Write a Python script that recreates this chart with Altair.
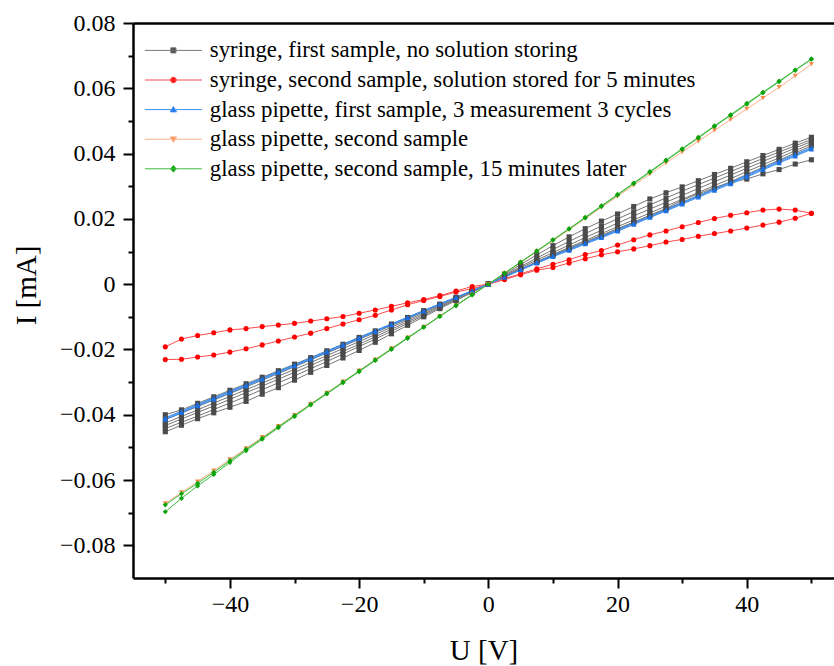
import altair as alt
import pandas as pd

U = [-50, -47.5, -45, -42.5, -40, -37.5, -35, -32.5, -30, -27.5, -25, -22.5, -20, -17.5, -15, -12.5, -10,
     -7.5, -5, -2.5, 0, 2.5, 5, 7.5, 10, 12.5, 15, 17.5, 20, 22.5, 25, 27.5, 30, 32.5, 35, 37.5, 40, 42.5,
     45, 47.5, 50]

S1 = "syringe, first sample, no solution storing"
S2 = "syringe, second sample, solution stored for 5 minutes"
S3 = "glass pipette, first sample, 3 measurement 3 cycles"
S4 = "glass pipette, second sample"
S5 = "glass pipette, second sample, 15 minutes later"
SERIES = [S1, S2, S3, S4, S5]

# syringe, first sample (several sweeps)
G1 = [-0.0400, -0.0385, -0.0365, -0.0345, -0.0325, -0.0305, -0.0285, -0.0265, -0.0245, -0.0225, -0.0204,
      -0.0184, -0.0163, -0.0143, -0.0122, -0.0102, -0.0081, -0.0061, -0.0040, -0.0020, 0,
      0.0030, 0.0060, 0.0090, 0.0118, 0.0145, 0.0170, 0.0193, 0.0215, 0.0238, 0.0261, 0.0280, 0.0298,
      0.0317, 0.0336, 0.0355, 0.0375, 0.0394, 0.0413, 0.0432, 0.0450]
G2 = [-0.0415, -0.0395, -0.0375, -0.0355, -0.0335, -0.0315, -0.0294, -0.0274, -0.0253, -0.0232, -0.0211,
      -0.0190, -0.0169, -0.0148, -0.0127, -0.0106, -0.0084, -0.0063, -0.0042, -0.0021, 0,
      0.0027, 0.0054, 0.0080, 0.0106, 0.0131, 0.0155, 0.0178, 0.0200, 0.0222, 0.0243, 0.0264, 0.0285,
      0.0305, 0.0325, 0.0345, 0.0365, 0.0385, 0.0405, 0.0424, 0.0443]
G3 = [-0.0425, -0.0405, -0.0385, -0.0364, -0.0344, -0.0323, -0.0303, -0.0282, -0.0261, -0.0240, -0.0219,
      -0.0197, -0.0176, -0.0154, -0.0132, -0.0110, -0.0088, -0.0066, -0.0044, -0.0022, 0,
      0.0025, 0.0050, 0.0074, 0.0097, 0.0120, 0.0143, 0.0165, 0.0187, 0.0209, 0.0230, 0.0251, 0.0272,
      0.0293, 0.0314, 0.0334, 0.0355, 0.0376, 0.0396, 0.0417, 0.0437]
G4 = [-0.0433, -0.0413, -0.0393, -0.0373, -0.0353, -0.0332, -0.0312, -0.0291, -0.0270, -0.0249, -0.0227,
      -0.0206, -0.0184, -0.0161, -0.0138, -0.0115, -0.0092, -0.0069, -0.0046, -0.0023, 0,
      0.0023, 0.0046, 0.0069, 0.0091, 0.0113, 0.0134, 0.0155, 0.0176, 0.0197, 0.0218, 0.0239, 0.0260,
      0.0281, 0.0302, 0.0323, 0.0345, 0.0366, 0.0387, 0.0409, 0.0430]
G5 = [-0.0442, -0.0423, -0.0404, -0.0384, -0.0364, -0.0344, -0.0323, -0.0302, -0.0281, -0.0259, -0.0237,
      -0.0214, -0.0191, -0.0168, -0.0144, -0.0120, -0.0096, -0.0072, -0.0048, -0.0024, 0,
      0.0022, 0.0045, 0.0067, 0.0088, 0.0108, 0.0128, 0.0148, 0.0168, 0.0189, 0.0210, 0.0230, 0.0251,
      0.0272, 0.0293, 0.0314, 0.0336, 0.0358, 0.0380, 0.0402, 0.0424]
G6 = [-0.0452, -0.0432, -0.0412, -0.0394, -0.0377, -0.0359, -0.0337, -0.0317, -0.0294, -0.0270, -0.0249,
      -0.0226, -0.0203, -0.0178, -0.0152, -0.0126, -0.0100, -0.0075, -0.0050, -0.0025, 0,
      0.0023, 0.0046, 0.0068, 0.0090, 0.0110, 0.0130, 0.0150, 0.0170, 0.0190, 0.0211, 0.0232, 0.0257,
      0.0277, 0.0296, 0.0312, 0.0322, 0.0338, 0.0351, 0.0368, 0.0381]

# syringe, second sample (hysteresis loop: two branches)
RA = [-0.0192, -0.0168, -0.0157, -0.0149, -0.0140, -0.0136, -0.0130, -0.0125, -0.0120, -0.0113, -0.0106,
      -0.0099, -0.0089, -0.0079, -0.0068, -0.0057, -0.0047, -0.0035, -0.0021, -0.0007, 0,
      0.0017, 0.0032, 0.0047, 0.0061, 0.0075, 0.0091, 0.0103, 0.0120, 0.0136, 0.0151, 0.0163, 0.0176,
      0.0189, 0.0201, 0.0211, 0.0219, 0.0227, 0.0230, 0.0227, 0.0217]
RB = [-0.0231, -0.0230, -0.0223, -0.0217, -0.0208, -0.0198, -0.0186, -0.0174, -0.0162, -0.0150, -0.0136,
      -0.0122, -0.0109, -0.0095, -0.0079, -0.0063, -0.0050, -0.0038, -0.0024, -0.0014, 0,
      0.0014, 0.0029, 0.0043, 0.0051, 0.0065, 0.0078, 0.0090, 0.0099, 0.0108, 0.0118, 0.0129, 0.0137,
      0.0147, 0.0155, 0.0163, 0.0172, 0.0181, 0.0190, 0.0202, 0.0217]

# glass pipette, first sample (3 cycles)
B1 = [-0.0412, -0.0391, -0.0370, -0.0350, -0.0330, -0.0310, -0.0290, -0.0269, -0.0249, -0.0228, -0.0207,
      -0.0186, -0.0165, -0.0144, -0.0123, -0.0102, -0.0082, -0.0061, -0.0041, -0.0020, 0,
      0.0022, 0.0044, 0.0066, 0.0086, 0.0105, 0.0125, 0.0144, 0.0164, 0.0185, 0.0206, 0.0226, 0.0248,
      0.0269, 0.0290, 0.0310, 0.0331, 0.0353, 0.0374, 0.0395, 0.0416]
B2 = [-0.0415, -0.0394, -0.0373, -0.0353, -0.0333, -0.0312, -0.0292, -0.0271, -0.0251, -0.0230, -0.0209,
      -0.0188, -0.0167, -0.0146, -0.0125, -0.0104, -0.0083, -0.0062, -0.0041, -0.0021, 0,
      0.0021, 0.0043, 0.0064, 0.0084, 0.0103, 0.0123, 0.0142, 0.0162, 0.0183, 0.0204, 0.0224, 0.0245,
      0.0266, 0.0287, 0.0307, 0.0328, 0.0350, 0.0371, 0.0392, 0.0413]
B3 = [-0.0409, -0.0389, -0.0368, -0.0348, -0.0328, -0.0308, -0.0288, -0.0267, -0.0247, -0.0226, -0.0205,
      -0.0184, -0.0163, -0.0142, -0.0122, -0.0101, -0.0081, -0.0060, -0.0040, -0.0020, 0,
      0.0022, 0.0045, 0.0067, 0.0088, 0.0107, 0.0127, 0.0146, 0.0166, 0.0187, 0.0208, 0.0228, 0.0250,
      0.0271, 0.0292, 0.0312, 0.0334, 0.0356, 0.0377, 0.0398, 0.0419]

# glass pipette, second sample
O1 = [-0.0672, -0.0638, -0.0605, -0.0571, -0.0537, -0.0503, -0.0469, -0.0435, -0.0401, -0.0367, -0.0333,
      -0.0299, -0.0265, -0.0231, -0.0197, -0.0164, -0.0131, -0.0098, -0.0065, -0.0032, 0,
      0.0033, 0.0066, 0.0100, 0.0133, 0.0167, 0.0201, 0.0235, 0.0269, 0.0303, 0.0337, 0.0371, 0.0405,
      0.0438, 0.0471, 0.0504, 0.0537, 0.0570, 0.0603, 0.0638, 0.0674]

# glass pipette, second sample, 15 minutes later
E1 = [-0.0676, -0.0642, -0.0610, -0.0576, -0.0541, -0.0506, -0.0472, -0.0437, -0.0403, -0.0368, -0.0334,
      -0.0300, -0.0266, -0.0232, -0.0198, -0.0164, -0.0131, -0.0098, -0.0065, -0.0032, 0,
      0.0033, 0.0067, 0.0101, 0.0135, 0.0169, 0.0203, 0.0238, 0.0273, 0.0308, 0.0343, 0.0378, 0.0413,
      0.0448, 0.0483, 0.0517, 0.0551, 0.0586, 0.0620, 0.0655, 0.0689]
E2 = [-0.0697, -0.0656, -0.0618, -0.0583, -0.0546, -0.0510, -0.0475, -0.0440, -0.0405, -0.0370, -0.0336,
      -0.0302, -0.0268, -0.0234, -0.0200, -0.0166, -0.0132, -0.0099, -0.0066, -0.0033, 0,
      0.0034, 0.0068, 0.0102, 0.0136, 0.0170, 0.0205, 0.0240, 0.0275, 0.0310, 0.0345, 0.0380, 0.0415,
      0.0450, 0.0485, 0.0519, 0.0554, 0.0588, 0.0622, 0.0656, 0.0690]

BRANCHES = [
    (S1, "g1", G1), (S1, "g2", G2), (S1, "g3", G3), (S1, "g4", G4), (S1, "g5", G5), (S1, "g6", G6),
    (S2, "r1", RA), (S2, "r2", RB),
    (S3, "b1", B1), (S3, "b2", B2), (S3, "b3", B3),
    (S4, "o1", O1),
    (S5, "e1", E1), (S5, "e2", E2),
]

rows = []
for s, b, vals in BRANCHES:
    for u, i in zip(U, vals):
        rows.append({"U": u, "I": i, "series": s, "branch": b})
df = pd.DataFrame(rows)

MARKER_COLORS = ["#4b4b4b", "#ff0000", "#1c6fe0", "#f58c4c", "#0ca30c"]
LINE_COLORS = ["#777777", "#ff4a4a", "#3d8ef0", "#ffb08a", "#3cbb3c"]
SHAPES = ["square", "circle", "triangle-up", "triangle-down", "diamond"]
# legend glyphs: a line with the series marker at its centre (unit = sqrt(size)/2 px)
LEGEND_SHAPES = [
    "M-3,0L3,0M-0.27,-0.27L0.27,-0.27L0.27,0.27L-0.27,0.27Z",
    "M-3,0L3,0M-0.3,0A0.3,0.3,0,1,1,0.3,0A0.3,0.3,0,1,1,-0.3,0Z",
    "M-3,0L3,0M0,-0.33L0.33,0.24L-0.33,0.24Z",
    "M-3,0L3,0M0,0.33L0.33,-0.24L-0.33,-0.24Z",
    "M-3,0L3,0M0,-0.36L0.3,0L0,0.36L-0.3,0Z",
]
LEGEND_SIZE = 361

X_TICKS = [-50, -40, -30, -20, -10, 0, 10, 20, 30, 40, 50]
Y_TICKS = [-0.08, -0.07, -0.06, -0.05, -0.04, -0.03, -0.02, -0.01, 0, 0.01, 0.02, 0.03, 0.04, 0.05,
           0.06, 0.07, 0.08]

FONT = "Liberation Serif"

x_scale = alt.Scale(domain=[-55, 53.5], nice=False, zero=False)
y_scale = alt.Scale(domain=[-0.09, 0.08], nice=False, zero=False)

x_axis = alt.Axis(
    values=X_TICKS,
    labelExpr="datum.value % 20 == 0 ? datum.label : ''",
    tickSize={"condition": {"test": "datum.value % 20 == 0", "value": 10}, "value": 5},
    title="U [V]", titleFont=FONT, titleFontSize=29, titleFontWeight="normal", titleColor="black",
    titleY=58,
    labelFont=FONT, labelFontSize=24, labelColor="black", labelPadding=4,
    domainColor="black", domainWidth=2.5, tickColor="black", tickWidth=2, grid=False,
)
x_top_axis = alt.Axis(orient="top", labels=False, ticks=False, domain=True, domainColor="black",
                      domainWidth=2.5, title=None, grid=False)
y_axis = alt.Axis(
    values=Y_TICKS,
    labelExpr="abs(round(datum.value*100)) % 2 != 0 ? '' : (abs(datum.value) < 1e-9 ? '0' : format(datum.value, '.2f'))",
    tickSize={"condition": {"test": "abs(round(datum.value*100)) % 2 == 0", "value": 10}, "value": 5},
    title="I [mA]", titleFont=FONT, titleFontSize=29, titleFontWeight="normal", titleColor="black",
    titleX=-92, titleY=262,
    labelFont=FONT, labelFontSize=24, labelColor="black", labelPadding=8,
    domainColor="black", domainWidth=2.5, tickColor="black", tickWidth=2, grid=False,
)

base = alt.Chart(df)

lines = base.mark_line(strokeWidth=1).encode(
    x=alt.X("U:Q", scale=x_scale, axis=x_axis),
    y=alt.Y("I:Q", scale=y_scale, axis=y_axis),
    stroke=alt.Stroke("series:N", scale=alt.Scale(domain=SERIES, range=LINE_COLORS), legend=None),
    detail="branch:N",
    order=alt.Order("U:Q"),
)

points = base.mark_point(filled=True, size=26, opacity=1).encode(
    x=alt.X("U:Q", scale=x_scale, axis=x_top_axis),
    y=alt.Y("I:Q", scale=y_scale, axis=y_axis),
    fill=alt.Fill("series:N", scale=alt.Scale(domain=SERIES, range=MARKER_COLORS), legend=None),
    shape=alt.Shape("series:N", scale=alt.Scale(domain=SERIES, range=SHAPES), legend=None),
)

legend = alt.Legend(
    title=None, orient="none", legendX=29, legendY=16, padding=0,
    labelFont=FONT, labelFontSize=22.8, labelColor="black", labelOffset=25, labelLimit=0,
    rowPadding=5.6, symbolSize=LEGEND_SIZE, symbolStrokeWidth=1, symbolOpacity=1,
)

legend_layer = base.mark_point(filled=True, opacity=0, size=LEGEND_SIZE).encode(
    x=alt.X("U:Q", scale=x_scale, axis=None),
    y=alt.Y("I:Q", scale=y_scale, axis=y_axis),
    fill=alt.Fill("series:N", scale=alt.Scale(domain=SERIES, range=MARKER_COLORS), legend=legend),
    stroke=alt.Stroke("series:N", scale=alt.Scale(domain=SERIES, range=LINE_COLORS), legend=legend),
    shape=alt.Shape("series:N", scale=alt.Scale(domain=SERIES, range=LEGEND_SHAPES), legend=legend),
)

chart = alt.layer(lines, points, legend_layer).resolve_scale(
    fill="independent", stroke="independent", shape="independent"
).resolve_axis(x="independent").properties(
    width=701, height=555,
    padding={"left": 133, "top": 23, "right": 0, "bottom": 88},
    autosize=alt.AutoSizeParams(type="none"),
    background="white",
).configure_view(stroke=None).configure_axis(
    labelFont=FONT, labelFontSize=24, labelColor="black", titleFont=FONT
).configure_legend(labelFont=FONT)

chart.save("out.html", embed_options={"renderer": "svg", "actions": False})
